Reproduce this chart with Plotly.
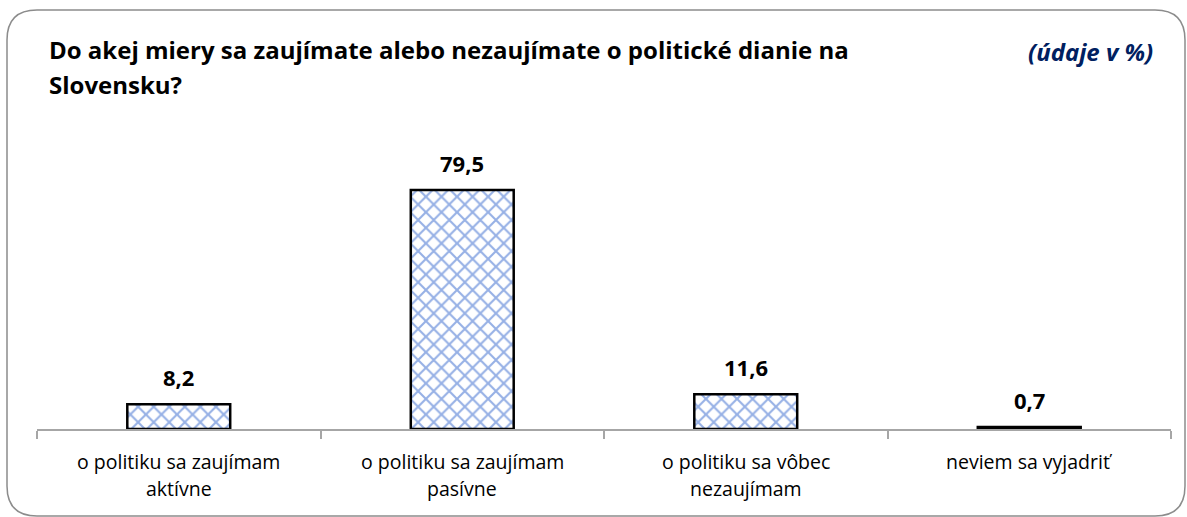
import plotly.graph_objects as go

categories = ["o politiku sa zaujímam<br>aktívne",
              "o politiku sa zaujímam<br>pasívne",
              "o politiku sa vôbec<br>nezaujímam",
              "neviem sa vyjadriť"]
values = [8.2, 79.5, 11.6, 0.7]
title_lines = ["Do akej miery sa zaujímate alebo nezaujímate o politické dianie na", "Slovensku?"]
unit_note = "(údaje v %)"

W, H = 1187, 517
L, R, T, B = 37, 16, 150, 88
PW, PH = W - L - R, H - T - B

def px(x):
    return (x - L) / PW

def py(y):
    return (H - B - y) / PH

FONT = "Open Sans"

fig = go.Figure(go.Bar(
    x=categories, y=values,
    marker=dict(color="white",
                line=dict(color="black", width=2.5),
                pattern=dict(shape="x", fgcolor="#2E62CC", bgcolor="white", size=11, solidity=0.35)),
    width=0.363,
    hoverinfo="skip",
))

annotations = []
for c, v in zip(categories, values):
    annotations.append(dict(x=c, y=v, xref="x", yref="y", text="<b>" + f"{v:.1f}".replace(".", ",") + "</b>",
                            showarrow=False, yanchor="bottom", yshift=10,
                            font=dict(family=FONT, size=22, color="black")))
    for i, line in enumerate(c.split("<br>")):
        annotations.append(dict(x=c, y=0, xref="x", yref="y", text=line, showarrow=False,
                                yanchor="middle", yshift=-(32 + 27 * i),
                                font=dict(family=FONT, size=19.5, color="black")))

annotations.append(dict(x=px(47), y=py(50), xref="paper", yref="paper", xanchor="left", yanchor="middle",
                        text="<b>" + title_lines[0] + "</b>", showarrow=False,
                        font=dict(family=FONT, size=24, color="black")))
annotations.append(dict(x=px(47), y=py(85), xref="paper", yref="paper", xanchor="left", yanchor="middle",
                        text="<b>" + title_lines[1] + "</b>", showarrow=False,
                        font=dict(family=FONT, size=24, color="black")))
annotations.append(dict(x=px(1155), y=py(51), xref="paper", yref="paper", xanchor="right", yanchor="middle",
                        text="<b><i>" + unit_note + "</i></b>", showarrow=False,
                        font=dict(family=FONT, size=24, color="#002060")))

# rounded border
x0, x1, y0, y1, r = 7, 1185, 10, 516, 30
path = (f"M {px(x0+r)},{py(y0)} L {px(x1-r)},{py(y0)} Q {px(x1)},{py(y0)} {px(x1)},{py(y0+r)} "
        f"L {px(x1)},{py(y1-r)} Q {px(x1)},{py(y1)} {px(x1-r)},{py(y1)} "
        f"L {px(x0+r)},{py(y1)} Q {px(x0)},{py(y1)} {px(x0)},{py(y1-r)} "
        f"L {px(x0)},{py(y0+r)} Q {px(x0)},{py(y0)} {px(x0+r)},{py(y0)} Z")

fig.update_layout(
    width=W, height=H,
    margin=dict(l=L, r=R, t=T, b=B),
    paper_bgcolor="white", plot_bgcolor="white",
    showlegend=False,
    annotations=annotations,
    shapes=[dict(type="path", path=path, xref="paper", yref="paper",
                 line=dict(color="#8c8c8c", width=1.5), layer="below")],
    xaxis=dict(showline=True, linecolor="#a6a6a6", linewidth=1.5,
               ticks="outside", tickson="boundaries", ticklen=8, tickcolor="#a6a6a6", tickwidth=1.5,
               showticklabels=False, showgrid=False, zeroline=False,
               range=[-0.5, 3.5], fixedrange=True),
    yaxis=dict(visible=False, range=[0, PH / 3.006], fixedrange=True),
)

fig.write_html("out.html", config={"displayModeBar": False},
               post_script="document.body.style.margin='0';document.body.style.overflow='hidden';")
